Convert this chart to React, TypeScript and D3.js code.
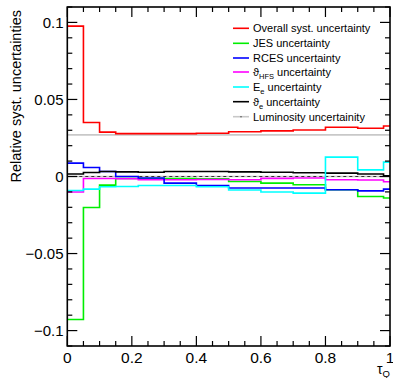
import React, { useEffect, useRef } from 'react';
import * as d3 from 'd3';

// bin edges in tau_Q
const edges = [0, 0.05, 0.1, 0.15, 0.22, 0.3, 0.4, 0.5, 0.6, 0.7, 0.8, 0.9, 0.98, 1.0];

// relative uncertainties per bin
const overall = [0.0976, 0.035, 0.0288, 0.0278, 0.0278, 0.0278, 0.0281, 0.029, 0.0296, 0.0302, 0.032, 0.0313, 0.0328];
const jes = [-0.0928, -0.0201, -0.0056, -0.0013, -0.0013, -0.0013, -0.0015, -0.0032, -0.0043, -0.0054, -0.0086, -0.013, -0.014];
const rces = [0.0087, 0.0058, 0.0032, 0.0, -0.001, -0.0043, -0.0058, -0.0075, -0.0075, -0.0075, -0.0086, -0.0093, -0.0082];
const thetaHfs = [-0.0101, -0.0013, -0.0013, -0.0015, -0.0021, -0.0021, -0.0019, -0.0021, -0.0012, -0.001, -0.0021, -0.0023, -0.0034];
const eE = [-0.0091, -0.0082, -0.0067, -0.0065, -0.0058, -0.0058, -0.0067, -0.0088, -0.0101, -0.0108, 0.0126, 0.0043, 0.0093];
const thetaE = [0.0016, 0.0026, 0.0032, 0.003, 0.0028, 0.0032, 0.0032, 0.003, 0.0028, 0.0024, 0.0022, 0.0016, 0.0005];
const lumi = [0.027, 0.027, 0.027, 0.027, 0.027, 0.027, 0.027, 0.027, 0.027, 0.027, 0.027, 0.027, 0.027];

const series = [
  { name: 'Overall syst. uncertainty', values: overall, color: '#ff0000' },
  { name: 'JES uncertainty', values: jes, color: '#00ee00' },
  { name: 'RCES uncertainty', values: rces, color: '#0000ff' },
  { name: 'ϑ|HFS| uncertainty', values: thetaHfs, color: '#ff00ff' },
  { name: 'E|e| uncertainty', values: eE, color: '#00ffff' },
  { name: 'ϑ|e| uncertainty', values: thetaE, color: '#000000' },
  { name: 'Luminosity uncertainity', values: lumi, color: '#c8c8c8' },
];

const xTicks = [0, 0.2, 0.4, 0.6, 0.8, 1];
const yTicks = [-0.1, -0.05, 0, 0.05, 0.1];

export default function App() {
  const ref = useRef<SVGSVGElement>(null);

  useEffect(() => {
    const svg = d3.select(ref.current);
    svg.selectAll('*').remove();

    const left = 67.3, right = 390, top = 7, bottom = 346;
    const x = d3.scaleLinear().domain([0, 1]).range([left, right]);
    const y = d3.scaleLinear().domain([-0.11, 0.11]).range([bottom, top]);
    const font = 'Liberation Sans, Arial, sans-serif';

    // luminosity and zero reference lines drawn first
    const line = d3.line<[number, number]>()
      .x(d => x(d[0]))
      .y(d => y(d[1]))
      .curve(d3.curveStepAfter);

    const stepPoints = (vals: number[]) => {
      const pts: [number, number][] = vals.map((v, i) => [edges[i], v]);
      pts.push([edges[edges.length - 1], vals[vals.length - 1]]);
      return pts;
    };

    svg.append('line')
      .attr('x1', x(0)).attr('x2', x(1))
      .attr('y1', y(0)).attr('y2', y(0))
      .attr('stroke', '#c8c8c8').attr('stroke-width', 1.5);
    svg.append('line')
      .attr('x1', x(0)).attr('x2', x(1))
      .attr('y1', y(0)).attr('y2', y(0))
      .attr('stroke', '#333').attr('stroke-width', 1.2)
      .attr('stroke-dasharray', '3,3');

    const drawOrder = [6, 0, 1, 3, 2, 5, 4];
    drawOrder.forEach(i => {
      const s = series[i];
      svg.append('path')
        .attr('d', line(stepPoints(s.values)))
        .attr('fill', 'none')
        .attr('stroke', s.color)
        .attr('stroke-width', 1.6);
    });

    // frame
    svg.append('rect')
      .attr('x', left).attr('y', top)
      .attr('width', right - left).attr('height', bottom - top)
      .attr('fill', 'none').attr('stroke', '#000').attr('stroke-width', 1.6);

    // ticks
    const xMinor = d3.range(0, 1.0001, 0.05);
    xMinor.forEach(t => {
      const major = Math.abs(t / 0.2 - Math.round(t / 0.2)) < 1e-6;
      const len = major ? 10 : 5;
      svg.append('line').attr('x1', x(t)).attr('x2', x(t))
        .attr('y1', bottom).attr('y2', bottom - len)
        .attr('stroke', '#000').attr('stroke-width', 1.2);
      svg.append('line').attr('x1', x(t)).attr('x2', x(t))
        .attr('y1', top).attr('y2', top + len)
        .attr('stroke', '#000').attr('stroke-width', 1.2);
    });
    const yMinor = d3.range(-0.11, 0.1101, 0.01).map(v => Math.round(v * 100) / 100);
    yMinor.forEach(t => {
      const major = Math.abs(t / 0.05 - Math.round(t / 0.05)) < 1e-6;
      const len = major ? 10 : 5;
      svg.append('line').attr('x1', left).attr('x2', left + len)
        .attr('y1', y(t)).attr('y2', y(t))
        .attr('stroke', '#000').attr('stroke-width', 1.2);
      svg.append('line').attr('x1', right).attr('x2', right - len)
        .attr('y1', y(t)).attr('y2', y(t))
        .attr('stroke', '#000').attr('stroke-width', 1.2);
    });

    // tick labels
    const fmt = (v: number) => (v < 0 ? '\u2212' : '') + String(Math.abs(v));
    xTicks.forEach(t => {
      svg.append('text')
        .attr('x', x(t)).attr('y', 363)
        .attr('text-anchor', 'middle')
        .attr('font-family', font).attr('font-size', 15.5)
        .text(fmt(t));
    });
    yTicks.forEach(t => {
      svg.append('text')
        .attr('x', 63.5).attr('y', y(t))
        .attr('dy', '0.36em')
        .attr('text-anchor', 'end')
        .attr('font-family', font).attr('font-size', 15)
        .text(fmt(t));
    });

    // axis titles
    const xt = svg.append('text')
      .attr('x', 390).attr('y', 374)
      .attr('text-anchor', 'end')
      .attr('font-family', font).attr('font-size', 14);
    xt.append('tspan').text('τ');
    xt.append('tspan').attr('dy', 3).attr('font-size', 9.5).text('Q');

    svg.append('text')
      .attr('transform', 'translate(21,10) rotate(-90)')
      .attr('text-anchor', 'end')
      .attr('font-family', font).attr('font-size', 14.5)
      .text('Relative syst. uncertainties');

    // legend
    const rowY = [28.3, 43.3, 58, 72, 87, 101.7, 116.7];
    series.forEach((s, i) => {
      const yy = rowY[i];
      svg.append('line')
        .attr('x1', 233).attr('x2', 249)
        .attr('y1', yy).attr('y2', yy)
        .attr('stroke', s.color).attr('stroke-width', 1.6);
      if (i === 6) {
        svg.append('circle').attr('cx', 241).attr('cy', yy).attr('r', 0.8).attr('fill', '#555');
      }
      const parts = s.name.split('|');
      const tx = svg.append('text')
        .attr('x', 253).attr('y', yy + 4)
        .attr('font-family', font).attr('font-size', 11);
      if (parts.length === 1) {
        tx.text(s.name);
      } else {
        tx.append('tspan').text(parts[0]);
        tx.append('tspan').attr('dy', 3).attr('font-size', 7.5).text(parts[1]);
        tx.append('tspan').attr('dy', -3).text(parts[2]);
      }
    });
  }, []);

  return (
    <svg ref={ref} width={393} height={378}
      style={{ position: 'absolute', left: 0, top: 0, background: '#fff' }} />
  );
}
